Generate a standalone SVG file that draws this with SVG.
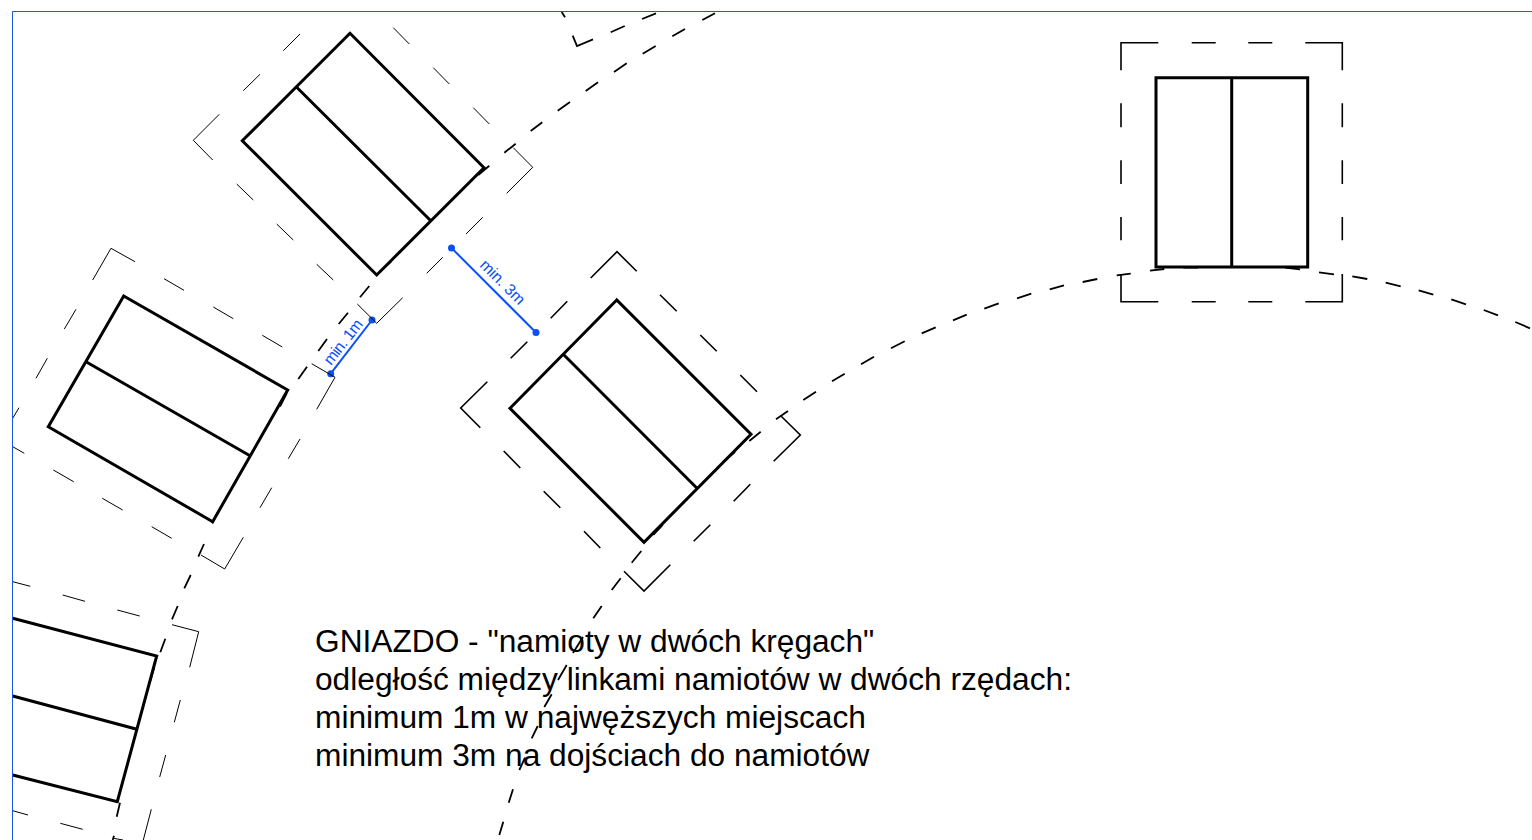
<svg xmlns="http://www.w3.org/2000/svg" width="1532" height="840" viewBox="0 0 1532 840">
<style>
.tent{fill:none;stroke:#000;stroke-width:3;stroke-linejoin:miter}
.zone{fill:none;stroke:#000;stroke-width:1}
.zone2{fill:none;stroke:#000;stroke-width:1.6}
.arc{fill:none;stroke:#000;stroke-width:1.8}
.dim{fill:none;stroke:#0b50f5;stroke-width:2}
.dot{fill:#0b50f5}
.dimt{font-family:"Liberation Sans",Arial,sans-serif;font-size:15.84px;fill:#0b50f5}
.note{font-family:"Liberation Sans",Arial,sans-serif;font-size:31.68px;fill:#000}
.frame{fill:none;stroke:#1a55e6;stroke-width:1}
</style>
<rect width="1532" height="840" fill="#fff"/>
<g id="connectors">
<path id="arc-outer" class="arc" d="M1530 328.3L1515.3 322M1498 315.3L1483.7 310M1466 304.3L1451.3 299.3M1433.3 294.7L1418.7 290.3M1400.7 286.3L1385.7 282.7M1367.3 279L1352.3 276.3M1334 274.3L1319 272.3M1300 269.3L1285 267.7M1198.3 267.7L1183.3 267.7M1164.3 269L1150 270.7M1130.7 273.7L1116.7 275.3M1097.3 279L1082.7 282M1064 285.3L1049.7 289.3M1031.3 293.7L1017 298.3M998.7 303.3L984.3 308.7M966.7 314.7L953 320.3M935.7 327.3L921.7 333.3M904.7 341.3L891 348.3M874 356.7L861 364.3M844.7 373.7L832 381.3M816 391.7L803.3 400M788 411L776 419.3M760.7 431.7L749.3 441M735 452L723 462M662.7 525L653.3 535M641.3 551L631.7 562.7M620.7 578.3L611.7 590M601.7 606L593.3 618.3M583 637L573 653M566.7 665L558 680M551.7 694.3L544.3 707M537.7 726L531.7 738.3M525 757.7L519.3 770M513 789.3L508.7 802.7M503.3 821.7L499.3 835"/>
<path id="arc-inner" class="arc" d="M715 13.3L702.3 20M685 29L672.3 36.3M655.7 46L642.7 53.7M626.7 63.3L614 72M598 82.3L585.7 91M570 102L557.7 110.7M542.3 122.3L530.7 131M515.7 143.7L504.3 152.7M489.3 165.7L478.3 175M391 261.7L380 271.7M369.3 286L360 297.3M348 312.7L338.7 324M327 339L318.3 351M307 366.7L298.3 379M286.7 393.3L280 406.7M218.3 511.7L212 523.3M204 544L198.3 556.7M190.7 575L184.3 588.3M177.7 606L172 619.3M165.3 638.7L160.3 652.3M154 668.3L150 681.7M120 802.7L116.7 816.7M114 835.7L112.7 840"/>
<path id="arc-top" class="arc" d="M656 13.3L642 19M624.7 26L610.7 32.3M593 39.3L577 46L572.7 35.7M565 17.3L561.7 12"/>
<g id="dim-1m">
<line class="dim" x1="330.7" y1="373.7" x2="372" y2="320"/>
<circle class="dot" cx="330.7" cy="373.7" r="3.5"/>
<circle class="dot" cx="372" cy="320" r="3.5"/>
<text class="dimt" transform="translate(331 366) rotate(-52)" textLength="53">min. 1m</text>
</g>
<g id="dim-3m">
<line class="dim" x1="451.5" y1="248" x2="536" y2="332.5"/>
<circle class="dot" cx="451.5" cy="248" r="3.5"/>
<circle class="dot" cx="536" cy="332.5" r="3.5"/>
<text class="dimt" transform="translate(479 266) rotate(45)">min. 3m</text>
</g>
</g>
<g id="tent-1">
<path class="zone" d="M219.3 114.3L193.3 140.3L212.7 160M243.3 90.7L260 74.3M283.3 50.7L300 34M393.3 27.7L409.3 44M433.3 67.7L449.3 84M473.3 107.7L489.3 124M513.3 147.7L532.7 167.3L506.7 193.3M482.7 217.3L466 234M442.7 257.3L426.7 273.3M402.7 297.7L376.7 323.3L357.3 304M333.3 280L316.7 264.3M293.3 240L276.7 224M253.3 200L236.7 184"/>
<path class="tent" d="M350 33.3L242.3 140.7L376.7 275L484 167.7ZM296.7 87.3L430 220"/>
</g>
<g id="tent-2">
<path class="zone" d="M92.7 280L111 248.3L135 261.7M64.3 329L76 309.3M36 378.3L47.3 358.3M12.7 418.3L19 407.7M12.7 446.7L24.3 453.3M53.3 470L73.7 481.7M102.3 498.3L122.7 510M151.7 526.7L171.7 538.3M201 555L224.7 569L243.3 537.3M260 507.7L271.7 487.7M288.3 458.7L300 439M316.7 409.3L335 377.3L311.7 363.7M282.3 347L262.3 335.3M233.3 318.7L213.3 307M184 290.3L164 278.7"/>
<path class="tent" d="M123.7 296L48.3 426.7L212.7 521.7L287.7 390ZM86 361.7L250 455.7"/>
</g>
<g id="tent-3">
<path class="zone" d="M12.7 581.7L30.3 586.3M62.7 595L85 601.3M117.3 610L139.7 616M172 624.7L198.7 631.7L189.7 667.3M180.3 700L174.3 722.3M165.7 755L159.7 777M151.3 809.3L143.3 840M12.7 810.7L28 815M60.3 823.3L82.7 829.3M113.3 838.3L123 840"/>
<path class="tent" d="M12.7 618.3L156.7 656L117.3 801.7L12.7 775M12.7 696L136 729"/>
</g>
<g id="tent-4">
<path class="zone2" d="M590.7 278L617 251.7L636.7 271.3M660 294.7L676.7 311.3M700.3 335L716.7 351.3M740.3 375L757 391.7M780.7 415.7L800.3 435L773.7 461.3M750.3 484.3L733.7 501.3M710.3 524.7L693.7 541.3M670.3 564.7L644 591L624 571.3M600.3 548L584 531.3M560.3 507.7L543.7 491.3M520.3 468L503.7 451M480.3 427.7L460.7 408L487.3 381.7M510.7 358.3L527.3 341.7M550.7 318.3L567.3 301.3"/>
<path class="tent" d="M616.7 300L510 408.3L644 542.3L751 434.3ZM564 355L697 488.3"/>
</g>
<g id="tent-5">
<path class="zone2" d="M1121 70.3V42.7H1158.3M1191.7 42.7H1215.7M1248.3 42.7H1272.3M1305.3 42.7H1342.3V70.3M1121 103.3V127.3M1121 160.3V184M1121 217V240.3M1121 274V301.7H1158.3M1191.7 301.7H1215.7M1248.3 301.7H1272.3M1305.3 301.7H1342.3V274M1342.3 103.3V127.3M1342.3 160.3V184M1342.3 217V240.3"/>
<path class="tent" d="M1156 77.7H1307.7V267H1156ZM1231.7 77.7V267"/>
</g>
<g id="note">
<text class="note" x="315" y="652">GNIAZDO - "namioty w dwóch kręgach"</text>
<text class="note" x="315" y="690">odległość między linkami namiotów w dwóch rzędach:</text>
<text class="note" x="315" y="728">minimum 1m w najwęższych miejscach</text>
<text class="note" x="315" y="766">minimum 3m na dojściach do namiotów</text>
</g>
<path id="frame" class="frame" d="M12.5 840V11.5H1532"/>
</svg>
